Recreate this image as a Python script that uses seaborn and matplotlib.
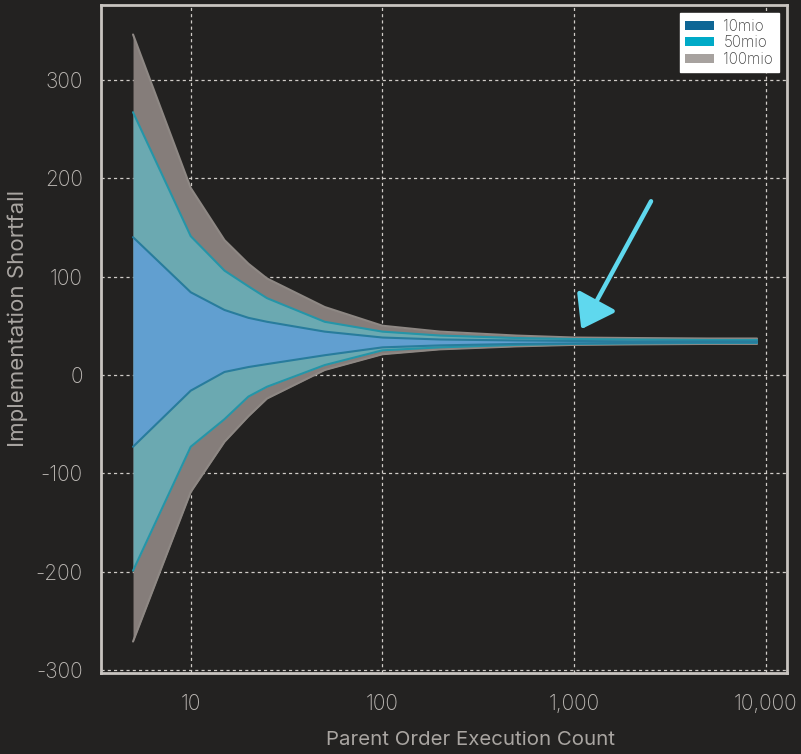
import numpy as np
import pandas as pd
import matplotlib
matplotlib.use("Agg")
import matplotlib.pyplot as plt
import matplotlib.ticker as mticker
from matplotlib.patches import Patch
import seaborn as sns

# ── Data ──────────────────────────────────────────────────
exec_count = [5, 10, 15, 20, 25, 50, 100, 200, 500, 1000, 2000, 5000, 9000]

hi_100mio = [346, 190, 137, 113, 98, 69, 50, 44, 40, 38, 37.5, 37, 37]
lo_100mio = [-271, -119, -68, -42, -24, 5, 21, 26, 29, 30.5, 31, 31.5, 31.5]
hi_50mio = [267, 141, 106, 90, 78, 54, 44, 40, 37.5, 36.5, 36, 35.5, 35.5]
lo_50mio = [-199, -73, -45, -22, -12, 10, 25, 28, 30.5, 31.5, 32, 32.5, 32.5]
hi_10mio = [140, 84, 66, 58, 54, 44, 38, 36, 35, 34.5, 34, 34, 34]
lo_10mio = [-73, -16, 3, 8, 11, 20, 28, 30, 31.5, 32, 32.5, 33, 33]

labels = ["10mio", "50mio", "100mio"]
legend_colors = ["#0e6695", "#00aac7", "#a7a29f"]

BG = "#232221"
FG = "#c8c4c0"

# ── Style ────────────────────────────────────────────────
sns.set_style("dark")
plt.rcParams.update({
    "font.family": ["Inter", "DejaVu Sans"],
    "font.weight": "light",
    "axes.unicode_minus": False,
    "figure.facecolor": BG,
    "axes.facecolor": BG,
})

fig = plt.figure(figsize=(8.01, 7.54), dpi=100)
ax = fig.add_axes([0.126, 0.1074, 0.8565, 0.886])

bands = [
    (hi_100mio, lo_100mio, "#857d7a", "#8e8884"),
    (hi_50mio, lo_50mio, "#6ba9b1", "#2595a8"),
    (hi_10mio, lo_10mio, "#619fd0", "#287c9c"),
]
for hi, lo, fill, edge in bands:
    ax.fill_between(exec_count, lo, hi, color=fill, linewidth=0, zorder=2)
    df = pd.DataFrame({"x": exec_count, "hi": hi, "lo": lo})
    sns.lineplot(data=df, x="x", y="hi", ax=ax, color=edge, lw=1.5, zorder=3)
    sns.lineplot(data=df, x="x", y="lo", ax=ax, color=edge, lw=1.5, zorder=3)

# arrow pointing at the convergence
ax.annotate("", xy=(1090, 46.5), xytext=(2520, 176.5),
            arrowprops=dict(arrowstyle="-|>,head_length=0.97,head_width=0.68",
                            mutation_scale=20, color="#5fd8ee", lw=3.2,
                            shrinkA=0, shrinkB=0), zorder=5)

ax.set_xscale("log")
ax.set_xlim(3.4, 12900)
ax.set_ylim(-303, 376)
ax.set_xticks([10, 100, 1000, 10000])
ax.xaxis.set_major_formatter(mticker.FuncFormatter(lambda v, _: f"{int(round(v)):,}"))
ax.xaxis.set_minor_locator(mticker.NullLocator())
ax.set_yticks([-300, -200, -100, 0, 100, 200, 300])
ax.yaxis.set_major_formatter(mticker.FuncFormatter(lambda v, _: f"{int(v)}"))

ax.grid(True, color="#d0ccc8", linestyle=(0, (2.5, 2.5)), linewidth=0.9, zorder=1)
ax.set_axisbelow(True)
for s in ax.spines.values():
    s.set_visible(True)
    s.set_color(FG)
    s.set_linewidth(2)
ax.tick_params(axis="both", direction="inout", length=10, width=1.5,
               color=FG, labelcolor="#bdb9b5", labelsize=15)
ax.tick_params(axis="x", pad=10)
ax.tick_params(axis="y", pad=8)

ax.set_xlabel("Parent Order Execution Count", color="#a9a5a1", fontsize=14.7)
ax.set_ylabel("Implementation Shortfall", color="#a9a5a1", fontsize=16)
ax.xaxis.set_label_coords(0.539, -0.087)
ax.yaxis.set_label_coords(-0.107, 0.531)

handles = [Patch(facecolor=c, edgecolor="none") for c in legend_colors]
leg = ax.legend(handles, labels, loc="upper right",
                prop={"family": ["Inter", "DejaVu Sans"], "size": 11},
                frameon=True, fancybox=False, facecolor="white",
                edgecolor="white", framealpha=1, handlelength=1.9,
                handleheight=0.55, labelspacing=0.1, borderpad=0.35,
                borderaxespad=0.55, handletextpad=0.6)
for t in leg.get_texts():
    t.set_color("#444444")

fig.savefig("out.png", dpi=100, facecolor=BG)
